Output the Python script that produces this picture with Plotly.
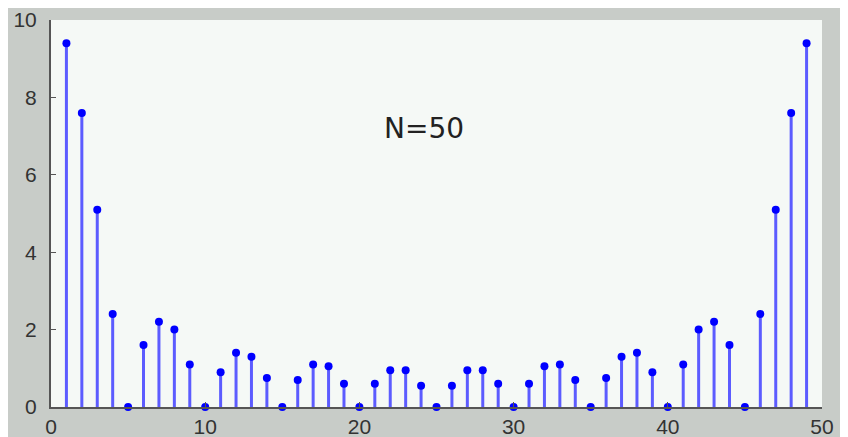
import plotly.graph_objects as go

k = list(range(1, 50))
mag = [9.4, 7.6, 5.1, 2.4, 0.0, 1.6, 2.2, 2.0, 1.1, 0.0,
       0.9, 1.4, 1.3, 0.75, 0.0, 0.7, 1.1, 1.05, 0.6, 0.0,
       0.6, 0.95, 0.95, 0.55, 0.0, 0.55, 0.95, 0.95, 0.6, 0.0,
       0.6, 1.05, 1.1, 0.7, 0.0, 0.75, 1.3, 1.4, 0.9, 0.0,
       1.1, 2.0, 2.2, 1.6, 0.0, 2.4, 5.1, 7.6, 9.4]
x_ticks = [0, 10, 20, 30, 40, 50]
y_ticks = [0, 2, 4, 6, 8, 10]
label_text = "N=50"

fig = go.Figure()
fig.add_trace(go.Scatter(
    x=k, y=mag, mode="markers",
    marker=dict(color="#0000ff", size=8, symbol="circle"),
    error_y=dict(type="data", symmetric=False, array=[0] * len(mag),
                 arrayminus=mag, width=0, thickness=3, color="#5c5cff"),
    showlegend=False, hoverinfo="skip", cliponaxis=False,
))
fig.add_annotation(x=24.2, y=7.2, text=label_text, showarrow=False,
                   font=dict(family="DejaVu Sans", size=28, color="#222222"))

axis_font = dict(family="Liberation Sans, Arial", size=21, color="#333333")
fig.update_layout(
    width=848, height=437,
    margin=dict(l=43, r=34, t=12, b=38, autoexpand=False),
    paper_bgcolor="#c8ccc8",
    plot_bgcolor="#f5f9f6",
    xaxis=dict(range=[0, 50], tickvals=x_ticks, showgrid=False, zeroline=False,
               showline=True, linecolor="#555555", linewidth=2, automargin=False,
               ticks="inside", ticklen=5, tickcolor="#555555", tickwidth=1,
               tickfont=axis_font),
    yaxis=dict(range=[0, 10], tickvals=y_ticks, showgrid=False, zeroline=False,
               showline=True, linecolor="#555555", linewidth=2, automargin=False,
               ticks="inside", ticklen=5, tickcolor="#555555", tickwidth=1,
               ticklabelstandoff=8, tickfont=axis_font),
)
fig.write_html("out.html")
